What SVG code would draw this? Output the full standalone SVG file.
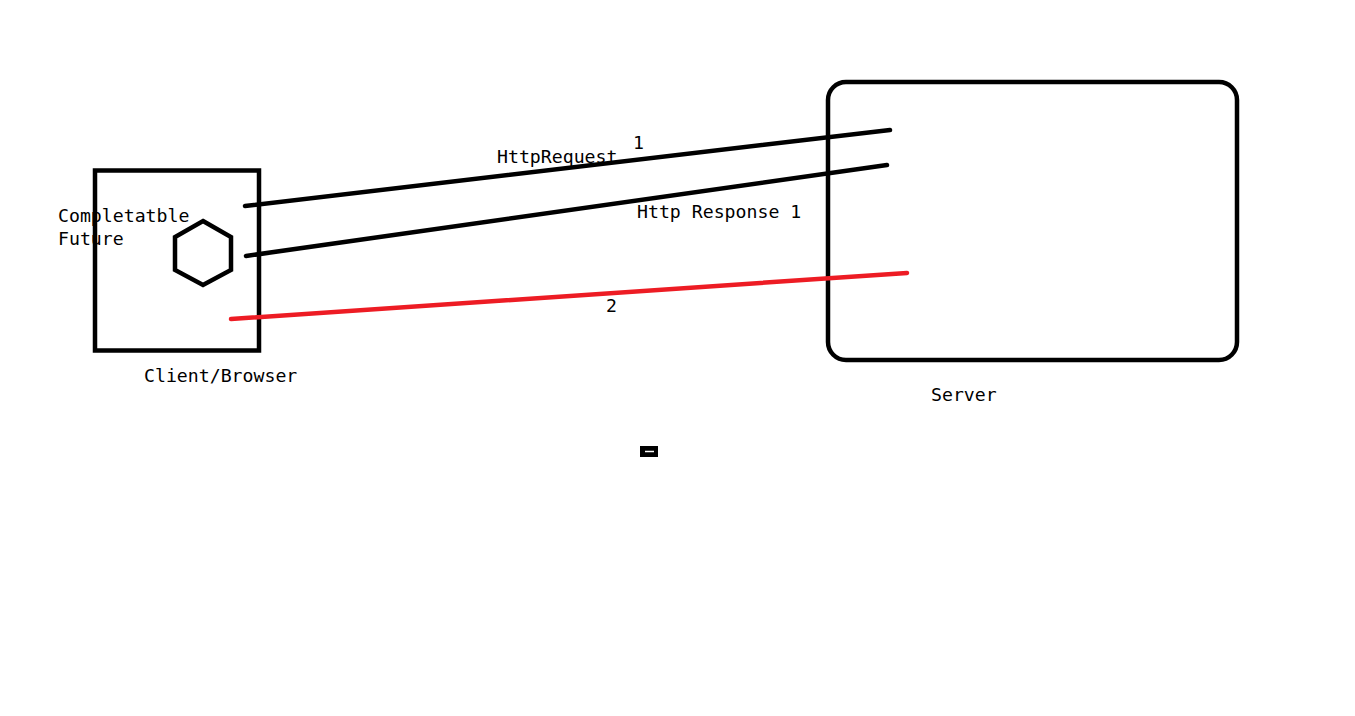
<svg xmlns="http://www.w3.org/2000/svg" width="1355" height="716" viewBox="0 0 1355 716">
<style>
.t{font-family:"DejaVu Sans Mono","Liberation Mono",monospace;font-size:18.2px;fill:#000}
.box{fill:none;stroke:#000;stroke-width:4.5}
.ln{fill:none;stroke:#000;stroke-width:4.5;stroke-linecap:round}
.red{fill:none;stroke:#ed1c24;stroke-width:4.5;stroke-linecap:round}
</style>
<rect width="1355" height="716" fill="#fff"/>
<g id="client">
<rect class="box" x="95" y="170.5" width="164" height="180"/>
<text class="t" x="144" y="382">Client/Browser</text>
</g>
<g id="future">
<polygon class="box" points="203,221 231,237 231,270 203,285 175,270 175,237" stroke-width="4"/>
<text class="t" x="58" y="222">Completatble</text>
<text class="t" x="58" y="245">Future</text>
</g>
<g id="server">
<rect class="box" x="828" y="82" width="409" height="278" rx="18" ry="18"/>
<text class="t" x="931" y="401">Server</text>
</g>
<g id="connectors">
<line class="ln" x1="245" y1="206" x2="890" y2="130"/>
<line class="ln" x1="246" y1="256" x2="887" y2="165"/>
<line class="red" x1="231" y1="319" x2="907" y2="273"/>
<text class="t" x="497" y="163">HttpRequest</text>
<text class="t" x="633" y="149">1</text>
<text class="t" x="637" y="218">Http Response 1</text>
<text class="t" x="606" y="312">2</text>
</g>
<g id="mark">
<rect x="640" y="446" width="18" height="11" fill="#000"/>
<line x1="645" y1="451.5" x2="654" y2="451.5" stroke="#fff" stroke-width="1.5"/>
</g>
</svg>
